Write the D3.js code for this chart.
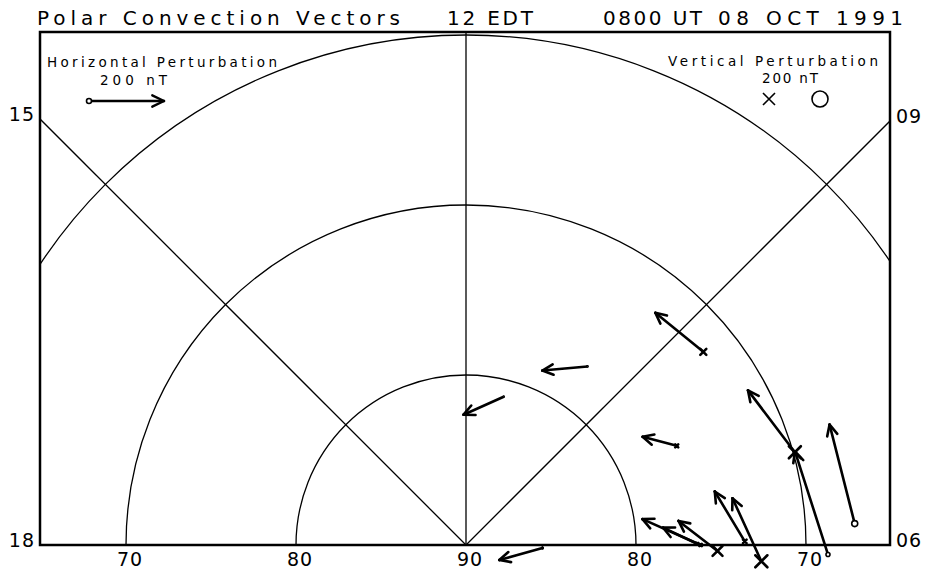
<!DOCTYPE html>
<html>
<head>
<meta charset="utf-8">
<script src="https://cdn.jsdelivr.net/npm/d3@7"></script>
<style>
  body { margin: 0; background: #fff; }
  svg { display: block; }
  text { font-family: "DejaVu Sans", sans-serif; fill: #000; }
</style>
</head>
<body>
<div id="chart"></div>
<script>
// grid
const latCircles = [80, 70, 60];
const mltLines = [12, 15, 9];
const latLabels = [70, 80, 90, 80, 70];
const latLabelSide = [-1, -1, 0, 1, 1];
const mltLabels = ['15', '09', '18', '06'];
const mltLabelValues = [15, 9, 18, 6];

// stations: magnetic latitude, MLT, horizontal (east/north, nT) and vertical perturbation (nT)
const stationLat = [72.0, 77.3, 81.0, 76.3, 69.9, 68.7, 67.1, 73.6, 72.6, 76.2, 76.4, 75.2, 85.5];
const stationMlt = [8.61, 9.72, 11.05, 7.68, 7.05, 5.90, 6.21, 6.05, 5.79, 6.00, 6.02, 5.91, 5.85];
const bEast = [-128, -120, -107, -91, -125, -88, -67, -80, -77, -155, -91, -104, -115];
const bNorth = [104, -11, -48, 24, 165, 275, 264, 133, 168, 69, 43, 80, -32];
const bVert = [100, -15, -5, 50, 200, -50, -75, 60, 200, 40, 30, 165, 10];

const titleParts = ['Polar Convection Vectors', '12 EDT', '0800 UT', '08 OCT 1991'];
const refValue = 200;

const width = 927, height = 570;
const frame = { left: 40, right: 890, top: 32, bottom: 545 };
const cx = 466, cy = 545;

const svg = d3.select('#chart').append('svg')
  .attr('width', width)
  .attr('height', height);

svg.append('rect').attr('width', width).attr('height', height).attr('fill', '#fff');

// Scales
const rScale = d3.scaleLinear().domain([90, 60]).range([0, 510]);
const phiScale = d3.scaleLinear().domain([6, 18]).range([Math.PI / 2, -Math.PI / 2]);
const vecScale = d3.scaleLinear().domain([0, refValue]).range([0, 75]);
const zScale = d3.scaleLinear().domain([0, refValue]).range([0, 8]);

function project(lat, mlt) {
  const r = rScale(lat), p = phiScale(mlt);
  return [cx + r * Math.sin(p), cy - r * Math.cos(p)];
}

svg.append('clipPath').attr('id', 'frameClip')
  .append('rect')
  .attr('x', frame.left).attr('y', frame.top)
  .attr('width', frame.right - frame.left)
  .attr('height', frame.bottom - frame.top);

const grid = svg.append('g')
  .attr('clip-path', 'url(#frameClip)')
  .attr('fill', 'none')
  .attr('stroke', '#000')
  .attr('stroke-width', 1.3);

grid.selectAll('circle')
  .data(latCircles)
  .enter()
  .append('circle')
  .attr('cx', cx).attr('cy', cy)
  .attr('r', d => rScale(d));

grid.selectAll('line')
  .data(mltLines)
  .enter()
  .append('line')
  .attr('x1', cx).attr('y1', cy)
  .attr('x2', d => project(40, d)[0])
  .attr('y2', d => project(40, d)[1]);

// Frame
svg.append('rect')
  .attr('x', frame.left).attr('y', frame.top)
  .attr('width', frame.right - frame.left)
  .attr('height', frame.bottom - frame.top)
  .attr('fill', 'none')
  .attr('stroke', '#000')
  .attr('stroke-width', 2.5);

// Latitude labels along the bottom
svg.selectAll('.lat-label')
  .data(latLabels)
  .enter()
  .append('text')
  .attr('class', 'lat-label')
  .attr('x', (d, i) => cx + latLabelSide[i] * rScale(d) + 4)
  .attr('y', 566)
  .attr('text-anchor', 'middle')
  .attr('font-size', '19px')
  .attr('letter-spacing', '1px')
  .text(d => d);

// MLT labels where the meridians meet the frame
svg.selectAll('.mlt-label')
  .data(mltLabelValues)
  .enter()
  .append('text')
  .attr('class', 'mlt-label')
  .each(function (d, i) {
    const p = phiScale(d);
    const sx = Math.sin(p), sy = -Math.cos(p);
    const edgeX = sx < 0 ? frame.left : frame.right;
    const t = (edgeX - cx) / sx;
    const y = cy + t * sy;
    d3.select(this)
      .attr('x', sx < 0 ? edgeX - 5 : edgeX + 6)
      .attr('y', y + (sy < 0 ? 2 : 5))
      .attr('text-anchor', sx < 0 ? 'end' : 'start')
      .attr('font-size', '19px')
      .attr('letter-spacing', '1px')
      .text(mltLabels[i]);
  });

// Title
const titleX = [37, 447, 603, 718];
const titleW = [363, 86, 99, 185];
svg.selectAll('.title')
  .data(titleParts)
  .enter()
  .append('text')
  .attr('class', 'title')
  .attr('x', (d, i) => titleX[i])
  .attr('y', 25)
  .attr('font-size', '20px')
  .attr('textLength', (d, i) => titleW[i])
  .attr('lengthAdjust', 'spacing')
  .text(d => d);

// Arrow drawing
function arrow(g, x1, y1, x2, y2, head) {
  const ang = Math.atan2(y2 - y1, x2 - x1);
  const spread = 0.45;
  g.append('line')
    .attr('x1', x1).attr('y1', y1).attr('x2', x2).attr('y2', y2);
  [-spread, spread].forEach(s => {
    g.append('line')
      .attr('x1', x2).attr('y1', y2)
      .attr('x2', x2 - head * Math.cos(ang + s))
      .attr('y2', y2 - head * Math.sin(ang + s));
  });
}

function marker(g, x, y, z) {
  const r = zScale(Math.abs(z));
  if (z > 0) {
    const h = r * 0.75;
    g.append('path')
      .attr('d', `M${x - h},${y - h}L${x + h},${y + h}M${x - h},${y + h}L${x + h},${y - h}`);
  } else {
    g.append('circle').attr('cx', x).attr('cy', y).attr('r', Math.max(r, 0.3))
      .attr('fill', '#fff').attr('stroke-width', 1.6);
  }
}

const vecs = svg.append('g')
  .attr('stroke', '#000')
  .attr('fill', 'none')
  .attr('stroke-width', 2.6)
  .attr('stroke-linecap', 'round');

stationLat.forEach((lat, i) => {
  const [x, y] = project(lat, stationMlt[i]);
  const g = vecs.append('g');
  arrow(g, x, y, x + vecScale(bEast[i]), y - vecScale(bNorth[i]), 12);
  marker(g, x, y, bVert[i]);
});

// Legends
const legend = svg.append('g');
legend.append('text')
  .attr('x', 47).attr('y', 67)
  .attr('font-size', '13.5px')
  .attr('textLength', 230).attr('lengthAdjust', 'spacing')
  .text('Horizontal Perturbation');
legend.append('text')
  .attr('x', 100).attr('y', 85)
  .attr('font-size', '13.5px')
  .attr('textLength', 67).attr('lengthAdjust', 'spacing')
  .text(refValue + '  nT');

const hl = legend.append('g')
  .attr('stroke', '#000').attr('fill', 'none')
  .attr('stroke-width', 2.4).attr('stroke-linecap', 'round');
arrow(hl, 89, 101, 89 + vecScale(refValue), 101, 13);
hl.append('circle').attr('cx', 89).attr('cy', 101).attr('r', 2.5)
  .attr('fill', '#fff').attr('stroke-width', 1.6);

legend.append('text')
  .attr('x', 668).attr('y', 66)
  .attr('font-size', '13.5px')
  .attr('textLength', 210).attr('lengthAdjust', 'spacing')
  .text('Vertical Perturbation');
legend.append('text')
  .attr('x', 762).attr('y', 83)
  .attr('font-size', '13.5px')
  .attr('textLength', 56).attr('lengthAdjust', 'spacing')
  .text(refValue + '  nT');

const vl = legend.append('g')
  .attr('stroke', '#000').attr('fill', 'none').attr('stroke-width', 1.6);
marker(vl, 769, 99, refValue);
marker(vl, 820, 99, -refValue);
</script>
</body>
</html>
